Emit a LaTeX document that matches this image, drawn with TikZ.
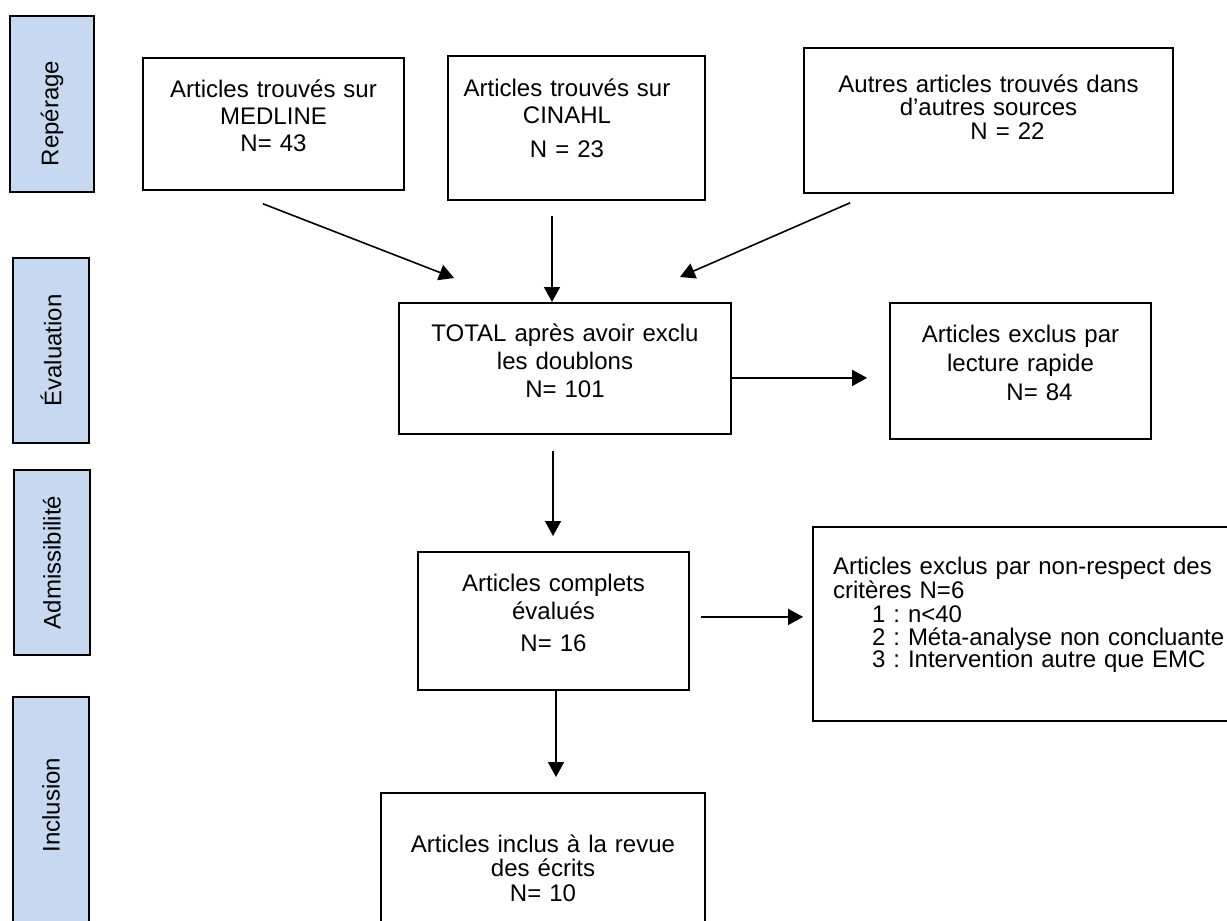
\documentclass[tikz,border=0pt]{standalone}
\usepackage{fontspec}
\setmainfont{Liberation Sans}
\usepackage{tikz}
\usetikzlibrary{arrows.meta}
\definecolor{phaseblue}{RGB}{198,217,241}
\frenchspacing

\begin{document}
\begin{tikzpicture}[x=1pt, y=-1pt,
		box/.style={draw, line width=1.8pt, anchor=north, align=center, inner sep=0pt, font=\fontsize{24}{27}\selectfont},
		phase/.style={draw, line width=1.8pt, fill=phaseblue, rotate=90, inner sep=0pt, font=\fontsize{24}{27}\selectfont},
		arr/.style={line width=1.6pt, -{Triangle[length=15pt,width=16pt]}}]
			\useasboundingbox (0,0) rectangle (1227,921);
			
			\node[phase, minimum width=176pt, minimum height=84pt] (rep) at (52,104) {Repérage\hspace*{19pt}};
			\node[phase, minimum width=185pt, minimum height=76pt] (eval) at (51,350.5) {Évaluation};
			\node[phase, minimum width=185pt, minimum height=76pt] (admis) at (52,562.5) {Admissibilité};
			\node[phase, minimum width=227pt, minimum height=76pt] (incl) at (51,810.5) {\hspace*{11pt}Inclusion};
			
			\node[box, text width=261pt, text height=39.5pt, text depth=92.5pt] (medline) at (273.5,57) {Articles trouvés sur\\MEDLINE\\N= 43};
			\node[box, text width=257pt, text height=40.5pt, text depth=103.5pt] (cinahl) at (576.5,55) {Articles trouvés sur\kern19pt\\CINAHL\kern19pt\\[7pt]N = 23\kern19pt};
			\node[box, text width=369pt, text height=44.5pt, text depth=100.5pt, font=\fontsize{24}{23.5}\selectfont] (autres) at (988.5,47) {Autres articles trouvés dans\\d’autres sources\\\hspace*{38pt}N = 22};
			\node[box, text width=332pt, text height=38.5pt, text depth=92.5pt, font=\fontsize{24}{28}\selectfont] (total) at (565,302) {TOTAL après avoir exclu\\les doublons\\N= 101};
			\node[box, text width=261pt, text height=39.5pt, text depth=96.5pt, font=\fontsize{24}{29}\selectfont] (rapide) at (1020.5,302) {Articles exclus par\\lecture rapide\\\hspace*{38pt}N= 84};
			\node[box, text width=271pt, text height=39.5pt, text depth=98.5pt, font=\fontsize{24}{28}\selectfont] (complets) at (553.5,551) {Articles complets\\évalués\\[4pt]N= 16};
			\node[box, align=left, inner xsep=20pt, text width=400pt, text height=47.5pt, text depth=146.5pt, font=\fontsize{24}{22.5}\selectfont] (nonresp) at (1033,526) {Articles exclus par non-respect des\\critères N=6\\[2pt]\hspace*{39pt}1 : n<40\\\hspace*{39pt}2 : Méta-analyse non concluante\\\hspace*{39pt}3 : Intervention autre que EMC};
			\node[box, text width=324pt, text height=59.5pt, text depth=90pt, font=\fontsize{24}{24.5}\selectfont] (inclus) at (543,792) {Articles inclus à la revue\\des écrits\\N= 10};
			
			\draw[arr] ([xshift=-10.5pt,yshift=-13pt]medline.south) -- ([xshift=56pt,yshift=24pt]total.north west);
			\draw[arr] ([xshift=-24.5pt,yshift=-15pt]cinahl.south) -- ([xshift=-13pt]total.north);
			\draw[arr] ([xshift=47pt,yshift=-9pt]autres.south west) -- ([xshift=-52pt,yshift=25pt]total.north east);
			\draw[arr] ([yshift=-9.5pt]total.east) -- ([xshift=-22pt,yshift=-7pt]rapide.west);
			\draw[arr] ([xshift=-12pt,yshift=-16pt]total.south) -- ([xshift=-0.5pt,yshift=15pt]complets.north);
			\draw[arr] ([xshift=11pt,yshift=4pt]complets.east) -- ([xshift=-9pt,yshift=7pt]nonresp.west);
			\draw[arr] ([xshift=2.5pt]complets.south) -- ([xshift=13pt,yshift=15pt]inclus.north);
		\end{tikzpicture}
\end{document}
